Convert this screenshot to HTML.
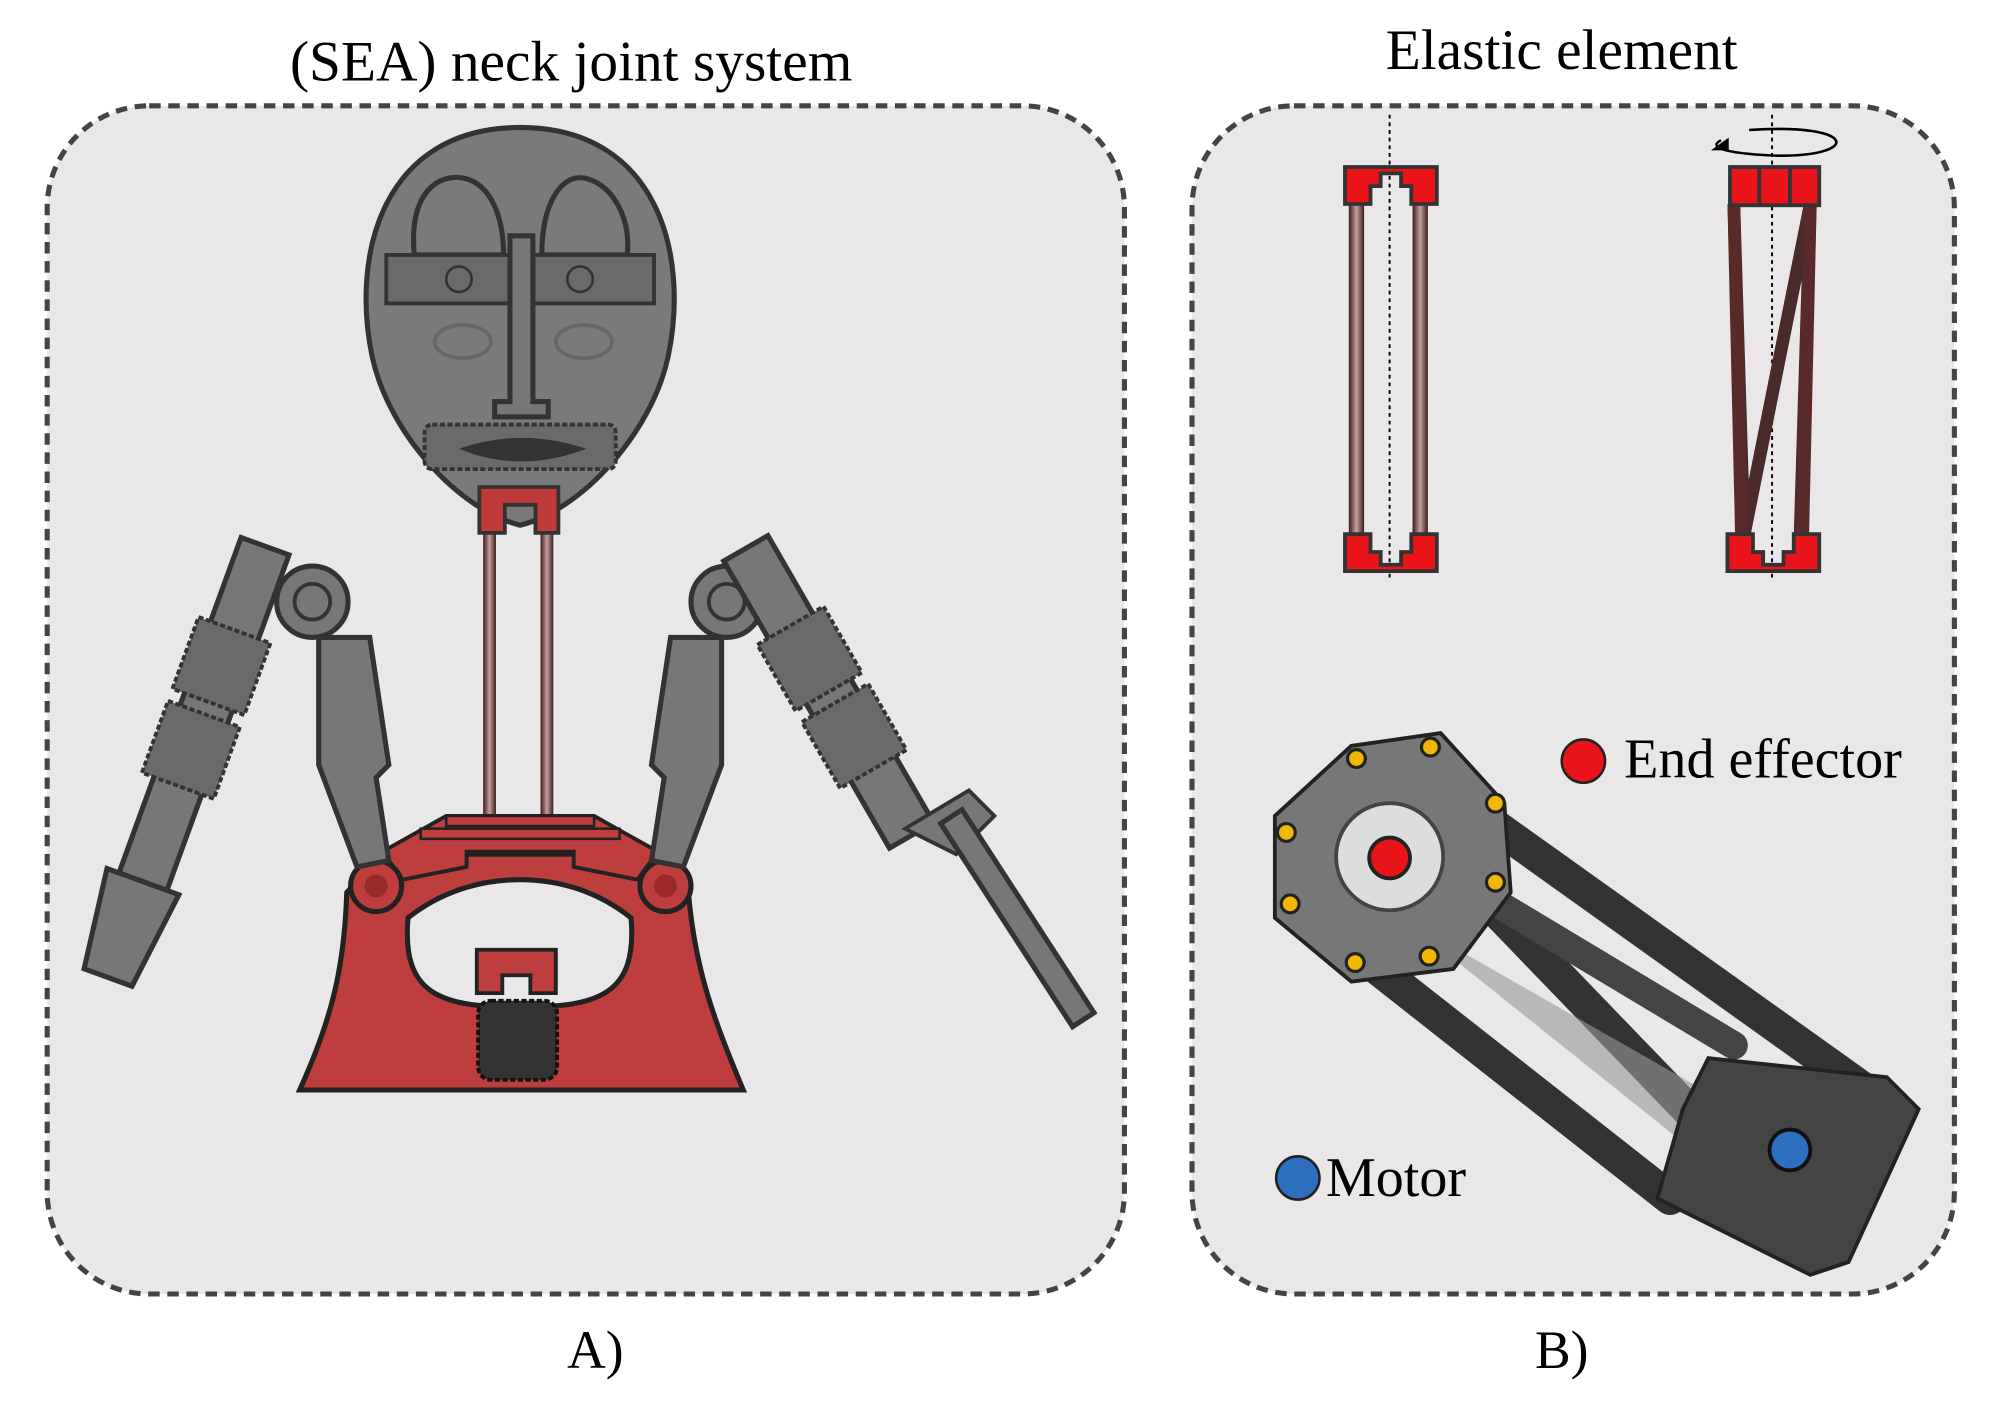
<!DOCTYPE html>
<html><head><meta charset="utf-8"><style>html,body{margin:0;padding:0;background:#fff}svg{display:block}</style></head>
<body>
<svg width="1999" height="1410" viewBox="0 0 1568 1106" xmlns="http://www.w3.org/2000/svg" font-family="Liberation Serif, serif">
<defs>
<linearGradient id="rod" x1="0" x2="1"><stop offset="0" stop-color="#3a1a1a"/><stop offset="0.5" stop-color="#c8a0a0"/><stop offset="1" stop-color="#3a1a1a"/></linearGradient>
</defs>
<rect width="1568" height="1106" fill="#fff"/>
<text x="448" y="63" font-size="45" text-anchor="middle">(SEA) neck joint system</text>
<text x="1225" y="54" font-size="45" text-anchor="middle">Elastic element</text>
<rect x="37" y="83" width="845" height="932" rx="80" fill="#e9e7e8" stroke="#444" stroke-width="4" stroke-dasharray="9,6"/>
<rect x="935" y="83" width="598" height="932" rx="80" fill="#e9e7e8" stroke="#444" stroke-width="4" stroke-dasharray="9,6"/>
<text x="467" y="1073" font-size="42" text-anchor="middle">A)</text>
<text x="1225" y="1073" font-size="42" text-anchor="middle">B)</text>

<rect x="379" y="410" width="10" height="340" fill="url(#rod)"/>
<rect x="424" y="410" width="10" height="340" fill="url(#rod)"/>
<path d="M408 100 C300 100 275 200 292 280 C305 340 360 400 408 412 C456 400 511 340 524 280 C541 200 516 100 408 100Z" fill="#7a7a7a" stroke="#333" stroke-width="4"/>
<path d="M325 200 C320 150 345 135 365 140 C385 145 395 170 395 200Z" fill="none" stroke="#333" stroke-width="4"/>
<path d="M425 200 C425 160 440 135 460 140 C480 145 495 170 492 200Z" fill="none" stroke="#333" stroke-width="4"/>
<rect x="303" y="200" width="210" height="38" fill="#6a6a6a" stroke="#333" stroke-width="3"/>
<path d="M400 185 h18 v130 h12 v12 h-42 v-12 h12Z" fill="#777" stroke="#333" stroke-width="4"/>
<circle cx="360" cy="219" r="10" fill="none" stroke="#333" stroke-width="2"/>
<circle cx="455" cy="219" r="10" fill="none" stroke="#333" stroke-width="2"/>
<ellipse cx="363" cy="268" rx="22" ry="13" fill="none" stroke="#666" stroke-width="3"/>
<ellipse cx="458" cy="268" rx="22" ry="13" fill="none" stroke="#666" stroke-width="3"/>
<rect x="333" y="333" width="150" height="35" rx="6" fill="#6a6a6a" stroke="#333" stroke-width="3" stroke-dasharray="4,2"/>
<path d="M360 352 Q408 335 460 352 Q408 372 360 352Z" fill="#333"/>
<path d="M376 382 h62 v36 h-18 v-22 h-24 v22 h-20Z" fill="#c03a3a" stroke="#333" stroke-width="3"/>
<path d="M235 855 C260 800 270 760 272 700 L300 670 L515 670 L540 700 C545 760 560 800 583 855Z" fill="#be3d3d" stroke="#222" stroke-width="4"/>
<path d="M320 720 C315 780 345 790 408 790 C470 790 500 780 495 720 C470 700 440 690 408 690 C376 690 345 700 320 720Z" fill="#e9e7e8" stroke="#222" stroke-width="4"/>
<path d="M300 668 L350 640 h116 L516 668 L500 690 L450 680 L450 668 h-84 v12 L316 690Z" fill="#be3d3d" stroke="#222" stroke-width="3"/>
<rect x="330" y="650" width="156" height="8" fill="#be3d3d" stroke="#222" stroke-width="2"/>
<rect x="350" y="640" width="116" height="8" fill="#be3d3d" stroke="#222" stroke-width="2"/>
<circle cx="295" cy="695" r="20" fill="#be3d3d" stroke="#222" stroke-width="4"/>
<circle cx="295" cy="695" r="9" fill="#9a2a2a"/>
<circle cx="522" cy="695" r="20" fill="#be3d3d" stroke="#222" stroke-width="4"/>
<circle cx="522" cy="695" r="9" fill="#9a2a2a"/>
<path d="M374 745 h62 v34 h-20 v-14 h-22 v14 h-20Z" fill="#be3d3d" stroke="#222" stroke-width="3"/>
<rect x="375" y="785" width="62" height="62" rx="10" fill="#333" stroke="#111" stroke-width="3" stroke-dasharray="4,2"/>
<path d="M250 500 L290 500 L305 600 L295 610 L305 675 L280 680 L250 600Z" fill="#777" stroke="#333" stroke-width="4"/>
<circle cx="245" cy="472" r="28" fill="#777" stroke="#333" stroke-width="4"/>
<circle cx="245" cy="472" r="14" fill="none" stroke="#333" stroke-width="3"/>
<g transform="rotate(20 160 560)"><rect x="140" y="420" width="40" height="280" fill="#777" stroke="#333" stroke-width="4"/><rect x="130" y="490" width="60" height="60" fill="#6a6a6a" stroke="#333" stroke-width="3" stroke-dasharray="4,2"/><rect x="130" y="560" width="60" height="60" fill="#6a6a6a" stroke="#333" stroke-width="3" stroke-dasharray="4,2"/><path d="M130 700 h60 l-10 80 h-40Z" fill="#777" stroke="#333" stroke-width="4"/></g>
<path d="M566 500 L526 500 L511 600 L521 610 L511 675 L536 680 L566 600Z" fill="#777" stroke="#333" stroke-width="4"/>
<circle cx="570" cy="472" r="28" fill="#777" stroke="#333" stroke-width="4"/>
<circle cx="570" cy="472" r="14" fill="none" stroke="#333" stroke-width="3"/>
<g transform="rotate(-30 660 560)"><rect x="640" y="410" width="40" height="260" fill="#777" stroke="#333" stroke-width="4"/><rect x="630" y="480" width="60" height="60" fill="#6a6a6a" stroke="#333" stroke-width="3" stroke-dasharray="4,2"/><rect x="630" y="550" width="60" height="60" fill="#6a6a6a" stroke="#333" stroke-width="3" stroke-dasharray="4,2"/></g>
<path d="M710 650 L760 620 L780 640 L750 670Z" fill="#777" stroke="#333" stroke-width="3"/>
<g transform="rotate(-33 750 650)"><rect x="742" y="640" width="20" height="190" fill="#777" stroke="#333" stroke-width="4"/></g>

<line x1="1090" y1="90" x2="1090" y2="455" stroke="#000" stroke-width="1.5" stroke-dasharray="3,3"/>
<rect x="1058" y="160" width="12" height="260" fill="url(#rod)"/>
<rect x="1108" y="160" width="12" height="260" fill="url(#rod)"/>
<path d="M1055 131 h72 v29 h-20 v-14 h-8 v-10 h-16 v10 h-8 v14 h-20Z" fill="#e8141a" stroke="#333" stroke-width="3"/>
<path d="M1055 448 h72 v-29 h-20 v14 h-8 v10 h-16 v-10 h-8 v-14 h-20Z" fill="#e8141a" stroke="#333" stroke-width="3"/>
<line x1="1390" y1="90" x2="1390" y2="455" stroke="#000" stroke-width="1.5" stroke-dasharray="3,3"/>
<path d="M1360 160 L1368 420 L1420 160 L1412 420" fill="none" stroke="#4a2a2a" stroke-width="10" stroke-linejoin="round"/>
<path d="M1360 160 L1366 420 M1420 160 L1414 420" stroke="#5a2a2a" stroke-width="10"/>
<rect x="1357" y="131" width="70" height="30" fill="#e8141a" stroke="#333" stroke-width="3"/>
<line x1="1380" y1="131" x2="1380" y2="161" stroke="#333" stroke-width="3"/>
<line x1="1404" y1="131" x2="1404" y2="161" stroke="#333" stroke-width="3"/>
<path d="M1355 448 h72 v-29 h-20 v14 h-8 v10 h-16 v-10 h-8 v-14 h-20Z" fill="#e8141a" stroke="#333" stroke-width="3"/>
<path d="M1372 102 C1460 96 1460 124 1390 122 C1350 120 1340 115 1350 110" fill="none" stroke="#000" stroke-width="2"/>
<path d="M1342 118 l14 -10 l0 10Z" fill="#000"/>

<g stroke="#222" stroke-width="3">
<line x1="1120" y1="610" x2="1470" y2="860" stroke="#333" stroke-width="26" stroke-linecap="round"/>
<line x1="1030" y1="720" x2="1310" y2="940" stroke="#333" stroke-width="26" stroke-linecap="round"/>
<line x1="1150" y1="690" x2="1420" y2="970" stroke="#333" stroke-width="26" stroke-linecap="round"/>
<line x1="1060" y1="640" x2="1360" y2="820" stroke="#444" stroke-width="22" stroke-linecap="round"/>
<path d="M1100 720 L1380 880 L1350 920 L1150 760Z" fill="#999" stroke="none" opacity="0.6"/>
<path d="M1340 830 L1480 845 L1505 870 L1450 990 L1420 1000 L1300 940 L1320 870Z" fill="#444"/>
<path d="M1000 640 L1060 585 L1130 575 L1180 630 L1185 700 L1140 760 L1060 770 L1000 720Z" fill="#777"/>
</g>
<circle cx="1090" cy="672" r="42" fill="#ddd" stroke="#444" stroke-width="3"/>
<circle cx="1090" cy="673" r="16" fill="#e8141a" stroke="#222" stroke-width="3"/>
<g fill="#f2b700" stroke="#222" stroke-width="2.5">
<circle cx="1064" cy="595" r="7"/><circle cx="1122" cy="586" r="7"/><circle cx="1173" cy="630" r="7"/><circle cx="1173" cy="692" r="7"/><circle cx="1121" cy="750" r="7"/><circle cx="1063" cy="755" r="7"/><circle cx="1012" cy="709" r="7"/><circle cx="1009" cy="653" r="7"/>
</g>
<circle cx="1404" cy="902" r="16" fill="#2f6fbf" stroke="#111" stroke-width="3"/>
<circle cx="1242" cy="597" r="17" fill="#e8141a" stroke="#222" stroke-width="2"/>
<text x="1274" y="610" font-size="44">End effector</text>
<circle cx="1018" cy="924" r="17" fill="#2f6fbf" stroke="#222" stroke-width="2"/>
<text x="1040" y="938" font-size="44">Motor</text>
</svg>
</body></html>
